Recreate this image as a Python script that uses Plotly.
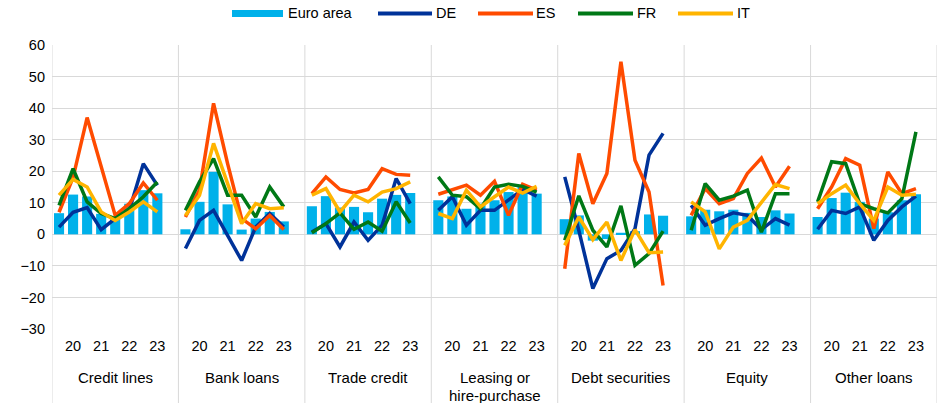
import plotly.graph_objects as go

groups = ["Credit lines", "Bank loans", "Trade credit", "Leasing or<br>hire-purchase",
          "Debt securities", "Equity", "Other loans"]
periods = ["", "20", "", "21", "", "22", "", "23"]

# values per group: 8 half-year points each
euro_area = [6.7, 12.6, 12.0, 6.5, 5.5, 9.7, 14.0, 13.0,
             1.6, 10.3, 19.8, 9.5, 1.5, 5.0, 7.1, 4.1,
             8.9, 12.1, 8.5, 8.7, 7.0, 11.3, 12.5, 13.1,
             10.8, 12.0, 8.1, 9.7, 10.8, 13.4, 15.0, 12.9,
             4.8, 6.0, -2.0, -1.5, 0.5, 1.0, 6.3, 5.9,
             5.7, 7.8, 7.3, 7.8, 6.8, 5.5, 7.6, 6.6,
             5.5, 11.5, 13.2, 10.3, 5.0, 7.0, 10.8, 12.7]
de = [2.3, 7.0, 8.5, 1.5, 5.0, 7.6, 22.4, 15.5,
      -4.5, 4.4, 7.6, -0.3, -8.3, 2.3, 6.6, 2.3,
      0.7, 3.4, -4.0, 3.9, -1.9, 2.9, 17.7, 9.7,
      7.6, 11.9, 2.9, 7.6, 7.6, 10.8, 14.2, 12.1,
      18.2, 1.3, -17.2, -7.7, -5.1, 1.8, 25.1, 32.0,
      9.2, 2.9, 5.0, 6.8, 6.0, 1.5, 5.0, 2.9,
      1.6, 7.6, 6.6, 8.7, -1.9, 4.4, 8.7, 12.1]
es = [7.0, 18.0, 37.0, 21.4, 6.0, 9.7, 16.3, 10.8,
      5.5, 14.0, 41.5, 22.4, 5.0, 1.8, 6.0, 1.5,
      12.9, 18.2, 14.2, 13.1, 14.2, 20.8, 19.0, 18.7,
      12.7, 14.2, 15.6, 12.4, 16.8, 6.0, 15.9, 14.0,
      -10.9, 25.6, 9.7, 19.3, 54.7, 23.5, 13.4, -16.2,
      6.0, 14.5, 9.7, 11.3, 19.3, 24.2, 15.0, 21.6,
      8.1, 15.0, 24.0, 21.9, 1.8, 19.8, 12.9, 14.5]
fr = [9.2, 20.8, 10.3, 6.6, 5.0, 8.1, 11.9, 16.6,
      7.6, 16.6, 24.0, 12.4, 12.4, 5.5, 15.0, 8.7,
      0.5, 3.4, 6.8, 1.6, 3.9, 1.0, 10.3, 3.6,
      18.2, 12.4, 11.9, 8.1, 15.0, 15.9, 15.2, 13.4,
      -1.9, 12.2, 1.3, -4.0, 9.0, -9.8, -6.1, 1.0,
      1.3, 16.1, 10.8, 12.1, 14.0, 0.7, 12.9, 12.9,
      10.3, 23.0, 22.4, 9.7, 8.1, 6.8, 11.3, 32.5]
it = [12.4, 17.4, 15.0, 7.1, 4.4, 7.1, 10.3, 7.1,
      6.0, 12.4, 28.8, 16.0, 3.4, 9.7, 8.1, 8.4,
      12.4, 14.5, 7.1, 12.4, 10.3, 13.4, 14.5, 16.6,
      6.6, 5.0, 14.0, 8.7, 11.9, 15.0, 13.1, 15.2,
      -3.5, 5.5, -1.7, 3.9, -8.3, 1.5, -5.8, -5.6,
      10.3, 7.1, -4.6, 2.3, 4.4, 10.3, 15.8, 14.5,
      9.7, 12.9, 15.6, 9.7, 4.4, 15.0, 12.4, 12.7]

series_names = ["Euro area", "DE", "ES", "FR", "IT"]
series_colors = ["#00B1EA", "#003299", "#FF4B00", "#007816", "#FFB400"]

NP = len(periods)
SLOT = NP + 1
NG = len(groups)

x_bar = [g * SLOT + i + 0.5 for g in range(NG) for i in range(NP)]


def broken(vals):
    xs, ys = [], []
    for g in range(NG):
        for i in range(NP):
            xs.append(g * SLOT + i + 0.5)
            ys.append(vals[g * NP + i])
        xs.append(None)
        ys.append(None)
    return xs, ys


fig = go.Figure()
fig.add_trace(go.Bar(x=x_bar, y=euro_area, name=series_names[0], marker_color=series_colors[0],
                     width=0.72, marker_line_width=0))
for name, vals, col in zip(series_names[1:], [de, es, fr, it], series_colors[1:]):
    xs, ys = broken(vals)
    fig.add_trace(go.Scatter(x=xs, y=ys, name=name, mode="lines",
                             line=dict(color=col, width=3.5), connectgaps=False))

tickvals, ticktext = [], []
for g in range(NG):
    for i, p in enumerate(periods):
        if p:
            tickvals.append(g * SLOT + i + 0.5)
            ticktext.append(p)

# layout geometry (pixels within the plotting area)
PLOT_W, PLOT_H = 885, 284


def px_x(p):
    return p / PLOT_W


def px_y(p):  # p = pixels above plot bottom
    return p / PLOT_H


shapes = []
for g in range(NG + 1):
    shapes.append(dict(type="line", xref="x", yref="paper", x0=g * SLOT, x1=g * SLOT,
                       y0=-0.27, y1=1, line=dict(color="#d9d9d9", width=1), layer="below"))

annotations = []
for g, name in enumerate(groups):
    for k, line in enumerate(name.split("<br>")):
        annotations.append(dict(x=g * SLOT + SLOT / 2, y=px_y(-49 - 17 * k), xref="x", yref="paper",
                                text=line, showarrow=False, yanchor="middle",
                                font=dict(size=15, color="#000")))

# custom legend (page pixel positions converted to paper coordinates)
leg_sym = [(232, 283), (378, 432), (478, 533), (578, 633), (678, 733)]
leg_txt = [287, 435, 535, 636, 736]
leg_yc = 329 - 13.5
for k, (name, col) in enumerate(zip(series_names, series_colors)):
    x0, x1 = leg_sym[k]
    if k == 0:
        shapes.append(dict(type="rect", xref="paper", yref="paper",
                           x0=px_x(x0 - 52), x1=px_x(x1 - 52),
                           y0=px_y(leg_yc - 3.5), y1=px_y(leg_yc + 3.5),
                           fillcolor=col, line=dict(width=0)))
    else:
        shapes.append(dict(type="line", xref="paper", yref="paper",
                           x0=px_x(x0 - 52), x1=px_x(x1 - 52),
                           y0=px_y(leg_yc), y1=px_y(leg_yc),
                           line=dict(color=col, width=4)))
    annotations.append(dict(x=px_x(leg_txt[k] - 52), y=px_y(leg_yc), xref="paper", yref="paper",
                            text=name, showarrow=False, xanchor="left", yanchor="middle",
                            font=dict(size=14.5, color="#000"), borderpad=0))

fig.update_layout(
    width=937, height=403,
    margin=dict(l=52, r=0, t=45, b=74),
    plot_bgcolor="white", paper_bgcolor="white",
    font=dict(family="Liberation Sans, Arial", size=14.5, color="#000"),
    barmode="overlay",
    showlegend=False,
    xaxis=dict(range=[0, NG * SLOT], tickvals=tickvals, ticktext=ticktext,
               showgrid=False, zeroline=False, ticks="", ticklabelstandoff=6,
               tickfont=dict(size=14.5)),
    yaxis=dict(range=[-30, 60], dtick=10, gridcolor="#d9d9d9", gridwidth=1,
               zeroline=False, ticks="", ticklabelstandoff=6, tickfont=dict(size=14.5)),
    shapes=shapes, annotations=annotations,
)
fig.write_html("out.html", config={"displayModeBar": False},
               post_script="document.body.style.margin='0';")
